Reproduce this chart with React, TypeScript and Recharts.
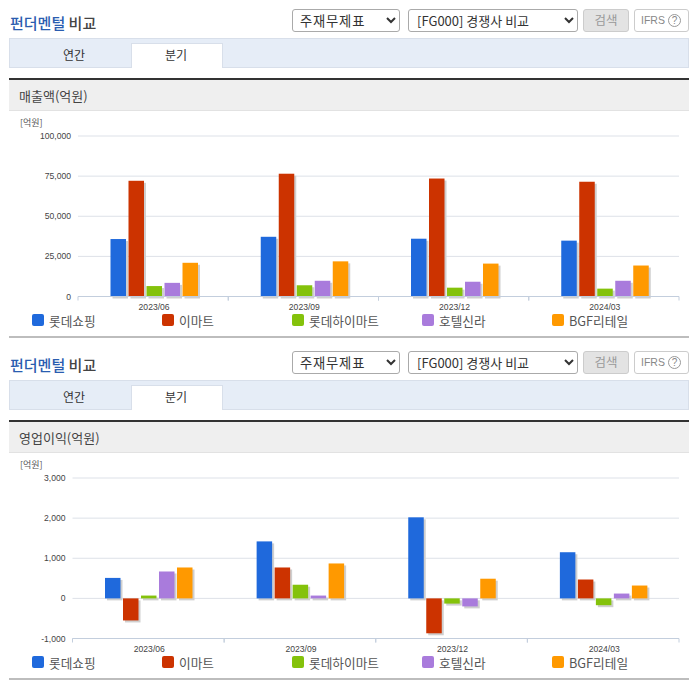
import React from 'react'
import { Bar, BarChart, CartesianGrid, Legend, XAxis, YAxis } from 'recharts'

const quarters = ['2023/06', '2023/09', '2023/12', '2024/03']
const companies = ['롯데쇼핑', '이마트', '롯데하이마트', '호텔신라', 'BGF리테일']
const colors = ['#1f69dc', '#cc3300', '#84c20b', '#a97bdc', '#ff9900']

const salesLotte = [35800, 37200, 36000, 34800]
const salesEmart = [72100, 76500, 73500, 71500]
const salesHimart = [6500, 7000, 5500, 4900]
const salesShilla = [8500, 9800, 9200, 9800]
const salesBgf = [21000, 21900, 20500, 19300]
const salesTicks = [0, 25000, 50000, 75000, 100000]

const profitLotte = [510, 1420, 2020, 1150]
const profitEmart = [-550, 770, -870, 470]
const profitHimart = [70, 340, -130, -170]
const profitShilla = [670, 70, -200, 120]
const profitBgf = [770, 870, 490, 320]
const profitTicks = [-1000, 0, 1000, 2000, 3000]

const buildRows = (series: number[][]) =>
  quarters.map((name, i) => {
    const row: Record<string, string | number> = { name }
    companies.forEach((c, j) => {
      row[c] = series[j][i]
    })
    return row
  })

const salesRows = buildRows([salesLotte, salesEmart, salesHimart, salesShilla, salesBgf])
const profitRows = buildRows([profitLotte, profitEmart, profitHimart, profitShilla, profitBgf])

const krFont = '"Noto Sans CJK KR", sans-serif'
const axisFont = '"Liberation Sans", sans-serif'

// bar with the flat grey drop shadow of the original
const ShadowBar = (props: any) => {
  const { x, y, width, height, fill, nudge } = props
  const top = height < 0 ? y + height : y
  const h = Math.abs(height)
  const left = x + nudge
  return (
    <g>
      <rect x={left + 2} y={top + 2} width={width} height={h} fill='#cfcfcf' />
      <rect x={left} y={top} width={width} height={h} fill={fill} />
    </g>
  )
}

const QuarterTick = (props: any) => {
  const { x, y, payload, bandSize } = props
  return (
    <g>
      <line x1={x - bandSize / 2} x2={x - bandSize / 2} y1={y} y2={y + 4} stroke='#c3cedd' />
      <line x1={x + bandSize / 2} x2={x + bandSize / 2} y1={y} y2={y + 4} stroke='#c3cedd' />
      <text x={x + 1} y={y + 13.5} textAnchor='middle' fontSize={8.6} fontFamily={axisFont} fill='#444'>
        {payload.value}
      </text>
    </g>
  )
}

const ChartLegend = () => (
  <div style={{ position: 'relative', height: 16, width: 696 }}>
    {companies.map((c, i) => (
      <div key={c} style={{ position: 'absolute', left: 32 + i * 130, top: 0, display: 'flex', alignItems: 'center', height: 16 }}>
        <span style={{ width: 12, height: 12, borderRadius: 2, background: colors[i], marginRight: 5 }} />
        <span style={{ fontFamily: krFont, fontSize: 12.7, color: '#555', whiteSpace: 'nowrap' }}>{c}</span>
      </div>
    ))}
  </div>
)

const box: React.CSSProperties = { position: 'absolute', boxSizing: 'border-box' }

const Header = ({ heading }: { heading: string }) => (
  <>
    <div style={{ ...box, left: 10, top: 12, fontFamily: krFont, fontSize: 15, fontWeight: 500, color: '#444', whiteSpace: 'nowrap' }}>
      <span style={{ color: '#2a5db0' }}>펀더멘털</span> 비교
    </div>
    <select defaultValue='a' style={{ ...box, left: 292, top: 9, width: 108, height: 23, fontFamily: krFont, fontSize: 13.3, letterSpacing: 0.8, paddingLeft: 3, background: '#fff', border: '1px solid #aaa', borderRadius: 3, color: '#333' }}>
      <option value='a'>주재무제표</option>
    </select>
    <select defaultValue='a' style={{ ...box, left: 408, top: 9, width: 170, height: 23, fontFamily: krFont, fontSize: 13, paddingLeft: 4, background: '#fff', border: '1px solid #aaa', borderRadius: 3, color: '#333' }}>
      <option value='a'>[FG000] 경쟁사 비교</option>
    </select>
    <div style={{ ...box, left: 583, top: 9, width: 46, height: 23, background: '#e3e3e3', border: '1px solid #ccc', borderRadius: 3, fontFamily: krFont, fontSize: 12.5, color: '#999', textAlign: 'center', lineHeight: '20px' }}>검색</div>
    <div style={{ ...box, left: 634, top: 9, width: 55, height: 23, background: '#fff', border: '1px solid #ccc', borderRadius: 3, fontFamily: axisFont, fontSize: 10.5, color: '#888', lineHeight: '21px', paddingLeft: 6, whiteSpace: 'nowrap' }}>
      IFRS
      <span style={{ position: 'absolute', left: 33, top: 4, width: 13, height: 13, border: '1px solid #999', borderRadius: 7, fontSize: 10, lineHeight: '12px', textAlign: 'center', boxSizing: 'border-box' }}>?</span>
    </div>
    <div style={{ ...box, left: 9, top: 38, width: 680, height: 30, background: '#e6edf7', border: '1px solid #d8dfea' }} />
    <div style={{ ...box, left: 131, top: 43, width: 92, height: 25, background: '#fff', border: '1px solid #d8dfea', borderBottom: 'none' }} />
    <div style={{ ...box, left: 24, top: 46, width: 100, textAlign: 'center', fontFamily: krFont, fontSize: 12, color: '#333' }}>연간</div>
    <div style={{ ...box, left: 126, top: 46, width: 100, textAlign: 'center', fontFamily: krFont, fontSize: 12, color: '#333' }}>분기</div>
    <div style={{ ...box, left: 9, top: 78, width: 680, height: 33, background: '#efefef', borderTop: '2px solid #333', borderBottom: '1px solid #e2e2e2' }} />
    <div style={{ ...box, left: 19, top: 86, fontFamily: krFont, fontSize: 13, color: '#444', whiteSpace: 'nowrap' }}>{heading}</div>
    <div style={{ ...box, left: 20, top: 116, fontFamily: krFont, fontSize: 9, color: '#555', whiteSpace: 'nowrap' }}>[억원]</div>
    <div style={{ ...box, left: 9, top: 336, width: 680, height: 2, background: '#bdbdbd' }} />
  </>
)

const Section = ({ top, heading, rows, ticks, plotLeft, nudge }: { top: number; heading: string; rows: any[]; ticks: number[]; plotLeft: number; nudge: number }) => {
  const bandSize = (679 - plotLeft) / quarters.length
  return (
    <div style={{ ...box, left: 0, top, width: 696, height: 342 }}>
      <Header heading={heading} />
      <div style={{ ...box, left: 0, top: 0 }}>
        <BarChart
          width={696}
          height={342}
          data={rows}
          barSize={15.5}
          barGap={2.5}
          margin={{ top: 136, right: 17, left: plotLeft - 60, bottom: 25.5 }}
        >
          <CartesianGrid vertical={false} stroke='#dde1e8' />
          <XAxis
            dataKey='name'
            height={20}
            tickLine={false}
            tickSize={0}
            tickMargin={0}
            stroke='#c3cedd'
            interval={0}
            tick={<QuarterTick bandSize={bandSize} />}
          />
          <YAxis
            width={60}
            domain={[ticks[0], ticks[ticks.length - 1]]}
            ticks={ticks}
            interval={0}
            axisLine={false}
            tickLine={false}
            tickSize={0}
            tickMargin={7}
            tickFormatter={(v: number) => v.toLocaleString('en-US')}
            tick={{ fontSize: 8.6, fontFamily: axisFont, fill: '#444' }}
          />
          <Legend
            verticalAlign='middle'
            layout='horizontal'
            wrapperStyle={{ top: 312, left: 0, width: 696 }}
            content={() => <ChartLegend />}
          />
          {companies.map((c, i) => (
            <Bar key={c} dataKey={c} fill={colors[i]} isAnimationActive={false} shape={<ShadowBar nudge={nudge} />} />
          ))}
        </BarChart>
      </div>
    </div>
  )
}

export default function App() {
  return (
    <div style={{ position: 'absolute', left: 0, top: 0, width: 696, height: 684, background: '#fff', overflow: 'hidden' }}>
      <Section top={0} heading='매출액(억원)' rows={salesRows} ticks={salesTicks} plotLeft={78} nudge={1.5} />
      <Section top={342} heading='영업이익(억원)' rows={profitRows} ticks={profitTicks} plotLeft={72.5} nudge={0.5} />
    </div>
  )
}
